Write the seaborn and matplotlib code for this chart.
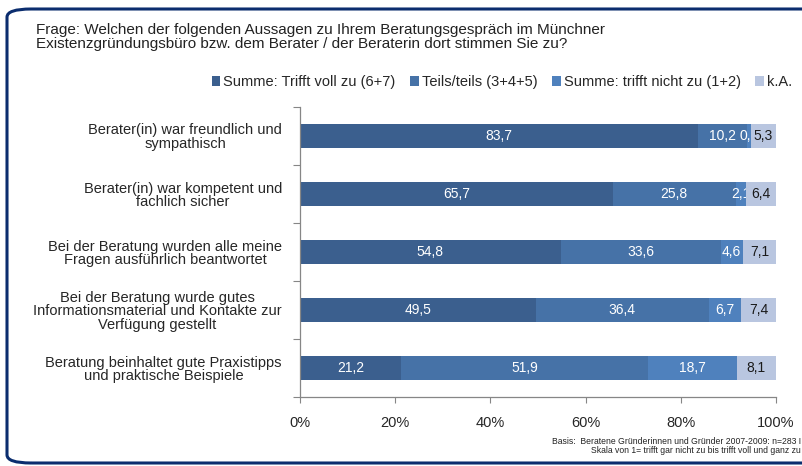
import matplotlib
matplotlib.use("Agg")
import matplotlib.pyplot as plt
import numpy as np
import pandas as pd
import seaborn as sns
from matplotlib.patches import FancyBboxPatch, Patch
from matplotlib.ticker import FixedLocator, PercentFormatter

categories = [
    "Berater(in) war freundlich und\nsympathisch",
    "Berater(in) war kompetent und\nfachlich sicher",
    "Bei der Beratung wurden alle meine\nFragen ausführlich beantwortet",
    "Bei der Beratung wurde gutes\nInformationsmaterial und Kontakte zur\nVerfügung gestellt",
    "Beratung beinhaltet gute Praxistipps\nund praktische Beispiele",
]
series_names = [
    "Summe: Trifft voll zu (6+7)",
    "Teils/teils (3+4+5)",
    "Summe: trifft nicht zu (1+2)",
    "k.A.",
]
voll_zu = [83.7, 65.7, 54.8, 49.5, 21.2]
teils = [10.2, 25.8, 33.6, 36.4, 51.9]
nicht_zu = [0.8, 2.1, 4.6, 6.7, 18.7]
k_a = [5.3, 6.4, 7.1, 7.4, 8.1]

colors = ["#3B5F8E", "#4672A7", "#4F81BD", "#B9C6E0"]
label_colors = ["white", "white", "white", "#1a1a1a"]

sns.set_style("white")
plt.rcParams["font.family"] = ["Liberation Sans", "DejaVu Sans"]

fig = plt.figure(figsize=(8.02, 4.66), dpi=100)
ax = fig.add_axes([0.374, 0.148, 0.5936, 0.6224])

df = pd.DataFrame({"Aussage": categories})
left = np.zeros(len(categories))
for i, (name, vals) in enumerate(zip(series_names, [voll_zu, teils, nicht_zu, k_a])):
    df[name] = vals
    sns.barplot(data=df, x=name, y="Aussage", orient="h", order=categories,
                left=left, color=colors[i], width=0.4, errorbar=None,
                saturation=1, linewidth=0, zorder=2 + 2 * i, ax=ax)
    ax.bar_label(ax.containers[-1], labels=[f"{v:.1f}".replace(".", ",") for v in vals],
                 label_type="center", color=label_colors[i], fontsize=10, zorder=3 + 2 * i)
    left = left + np.array(vals)

ax.set_xlim(0, 100)
ax.set_ylim(len(categories) - 0.5, -0.5)
ax.set_xlabel("")
ax.set_ylabel("")
ax.xaxis.set_major_locator(FixedLocator([0, 20, 40, 60, 80, 100]))
ax.xaxis.set_major_formatter(PercentFormatter(decimals=0))
ax.yaxis.set_minor_locator(FixedLocator(np.arange(-0.5, len(categories), 1.0)))
ax.tick_params(axis="x", direction="out", length=4, width=0.8, color="#868686",
               labelsize=10.5, pad=10, bottom=True)
ax.tick_params(axis="y", which="major", length=0, pad=13, labelsize=10.5)
ax.tick_params(axis="y", which="minor", direction="out", length=5, width=0.8,
               color="#868686", left=True)
for lab in ax.get_yticklabels():
    lab.set_multialignment("center")
    lab.set_linespacing(0.95)
for s in ["top", "right"]:
    ax.spines[s].set_visible(False)
for s in ["left", "bottom"]:
    ax.spines[s].set_color("#868686")
    ax.spines[s].set_linewidth(0.9)

handles = [Patch(facecolor=c, edgecolor="none") for c in colors]
fig.legend(handles, series_names, loc="center right", bbox_to_anchor=(0.995, 0.824),
           ncol=4, frameon=False, fontsize=10.5, handlelength=0.6, handleheight=0.6,
           handletextpad=0.2, columnspacing=1.0, borderaxespad=0)

fig.text(0.045, 0.950,
         "Frage: Welchen der folgenden Aussagen zu Ihrem Beratungsgespräch im Münchner\n"
         "Existenzgründungsbüro bzw. dem Berater / der Beraterin dort stimmen Sie zu?",
         ha="left", va="top", fontsize=11, linespacing=1.0, color="#222222")
fig.text(0.999, 0.063,
         "Basis:  Beratene Gründerinnen und Gründer 2007-2009: n=283 I\n"
         "Skala von 1= trifft gar nicht zu bis trifft voll und ganz zu",
         ha="right", va="top", fontsize=6.2, linespacing=1.1, color="#222222")

border = FancyBboxPatch((7 / 802, 3 / 466), 830 / 802, 454 / 466,
                        boxstyle="round,pad=0,rounding_size=0.03",
                        transform=fig.transFigure, fill=False,
                        edgecolor="#0B2D6E", linewidth=2.2, mutation_aspect=466 / 802)
fig.patches.append(border)

fig.savefig("out.png", dpi=100)
